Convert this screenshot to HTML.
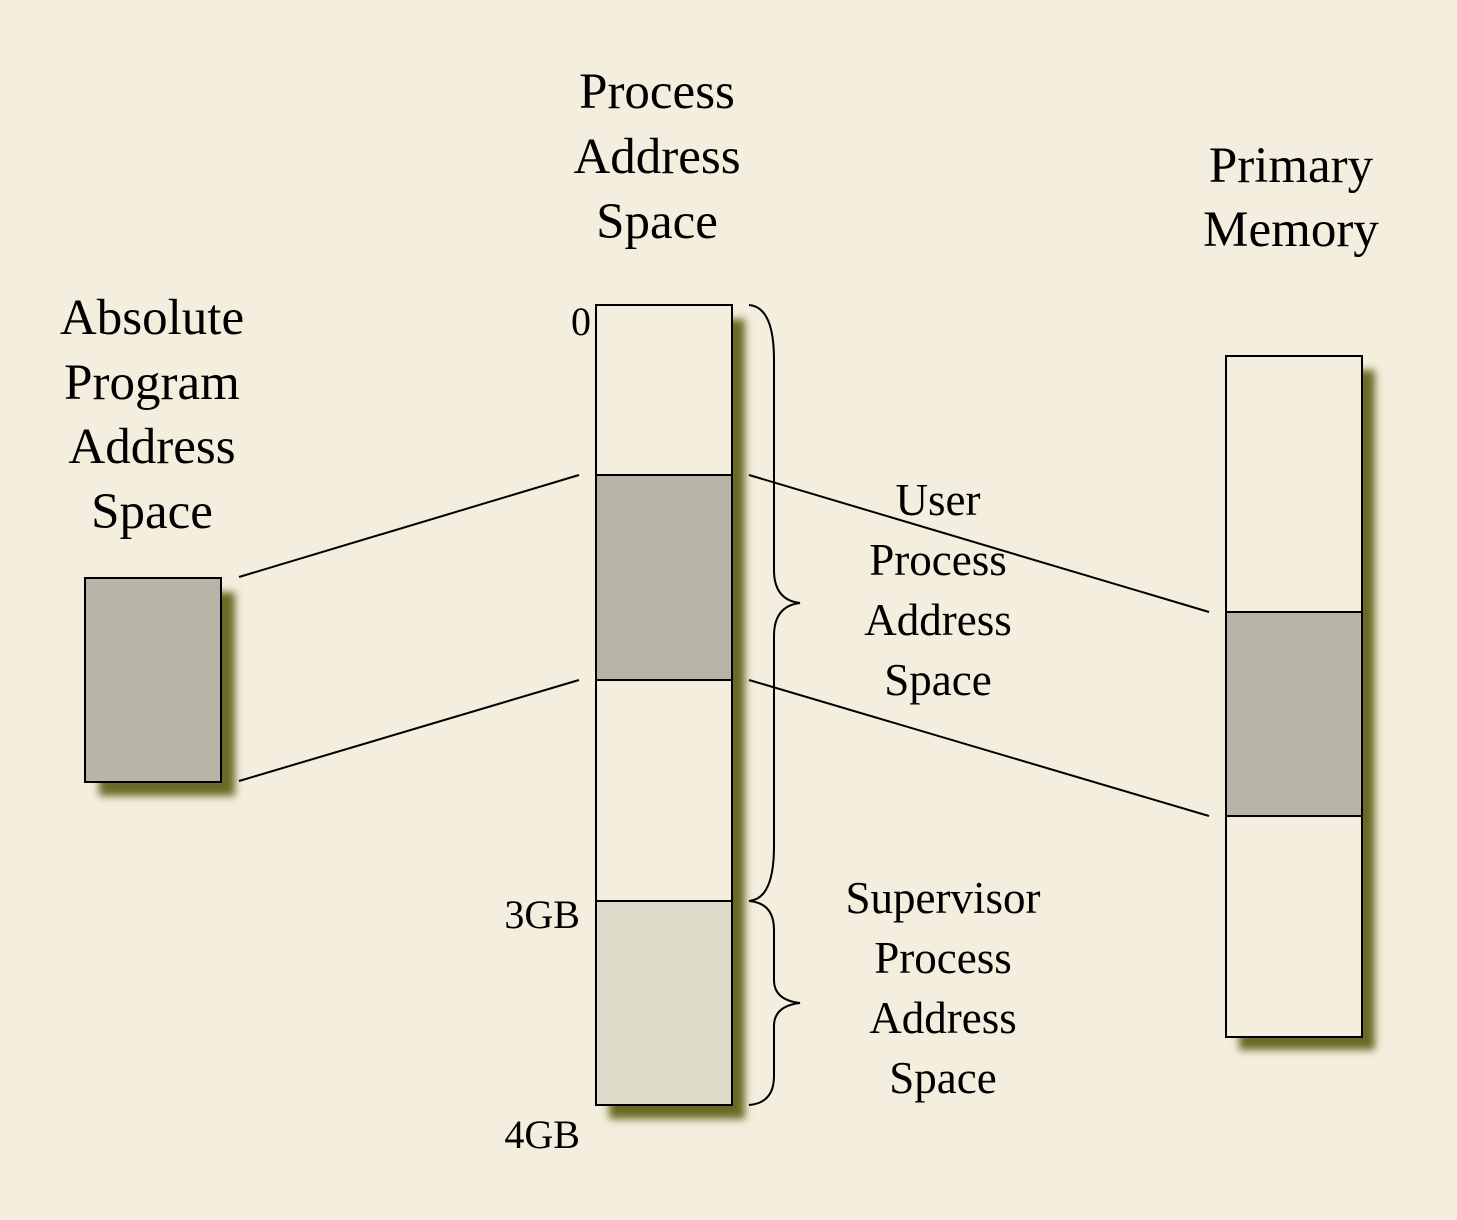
<!DOCTYPE html>
<html><head><meta charset="utf-8"><style>
html,body{margin:0;padding:0;background:#F3EEDD;}
svg{display:block;}
text{font-family:"Liberation Serif",serif;fill:#000;}
</style></head><body>
<svg width="1457" height="1220" viewBox="0 0 1457 1220" xmlns="http://www.w3.org/2000/svg">
<defs>
<filter id="sh" x="-20%" y="-20%" width="150%" height="150%">
<feGaussianBlur stdDeviation="4"/>
</filter>
</defs>
<rect width="1457" height="1220" fill="#F3EEDD"/>
<!-- shadows -->
<g fill="#6B6A25" filter="url(#sh)">
<rect x="99" y="592" width="136" height="204"/>
<rect x="609" y="319" width="136" height="800"/>
<rect x="1239" y="370" width="136" height="680"/>
</g>
<!-- absolute box -->
<rect x="85" y="578" width="136" height="204" fill="#B8B5A8" stroke="#000" stroke-width="2"/>
<!-- process column -->
<rect x="596" y="305" width="136" height="170" fill="#F3EEDD" stroke="#000" stroke-width="2"/>
<rect x="596" y="475" width="136" height="205" fill="#B8B5A8" stroke="#000" stroke-width="2"/>
<rect x="596" y="680" width="136" height="221" fill="#F3EEDD" stroke="#000" stroke-width="2"/>
<rect x="596" y="901" width="136" height="204" fill="#DEDCCB" stroke="#000" stroke-width="2"/>
<!-- primary memory -->
<rect x="1226" y="356" width="136" height="256" fill="#F3EEDD" stroke="#000" stroke-width="2"/>
<rect x="1226" y="612" width="136" height="204" fill="#B8B5A8" stroke="#000" stroke-width="2"/>
<rect x="1226" y="816" width="136" height="221" fill="#F3EEDD" stroke="#000" stroke-width="2"/>
<!-- connectors -->
<g stroke="#000" stroke-width="2" fill="none">
<line x1="239" y1="577" x2="579" y2="475"/>
<line x1="239" y1="781" x2="579" y2="680"/>
<line x1="749" y1="475" x2="1209" y2="612"/>
<line x1="749" y1="680" x2="1209" y2="816"/>
<!-- braces -->
<path d="M749 305 Q774 307 774 360 L774 570 Q774 600 800 603 Q774 606 774 636 L774 846 Q774 899 749 901"/>
<path d="M749 901 Q774 903 774 930 L774 980 Q774 1000 800 1003 Q774 1006 774 1026 L774 1076 Q774 1103 749 1105"/>
</g>
<!-- titles -->
<g font-size="51" text-anchor="middle">
<text x="657" y="108">Process</text>
<text x="657" y="173">Address</text>
<text x="657" y="238">Space</text>
<text x="1291" y="182">Primary</text>
<text x="1291" y="246">Memory</text>
<text x="152" y="334">Absolute</text>
<text x="152" y="399">Program</text>
<text x="152" y="463">Address</text>
<text x="152" y="528">Space</text>
</g>
<g font-size="45" text-anchor="middle">
<text x="938" y="515">User</text>
<text x="938" y="575">Process</text>
<text x="938" y="635">Address</text>
<text x="938" y="695">Space</text>
<text x="943" y="913">Supervisor</text>
<text x="943" y="973">Process</text>
<text x="943" y="1033">Address</text>
<text x="943" y="1093">Space</text>
</g>
<g font-size="40" text-anchor="end">
<text x="591" y="335">0</text>
<text x="580" y="928">3GB</text>
<text x="580" y="1148">4GB</text>
</g>
</svg>
</body></html>
